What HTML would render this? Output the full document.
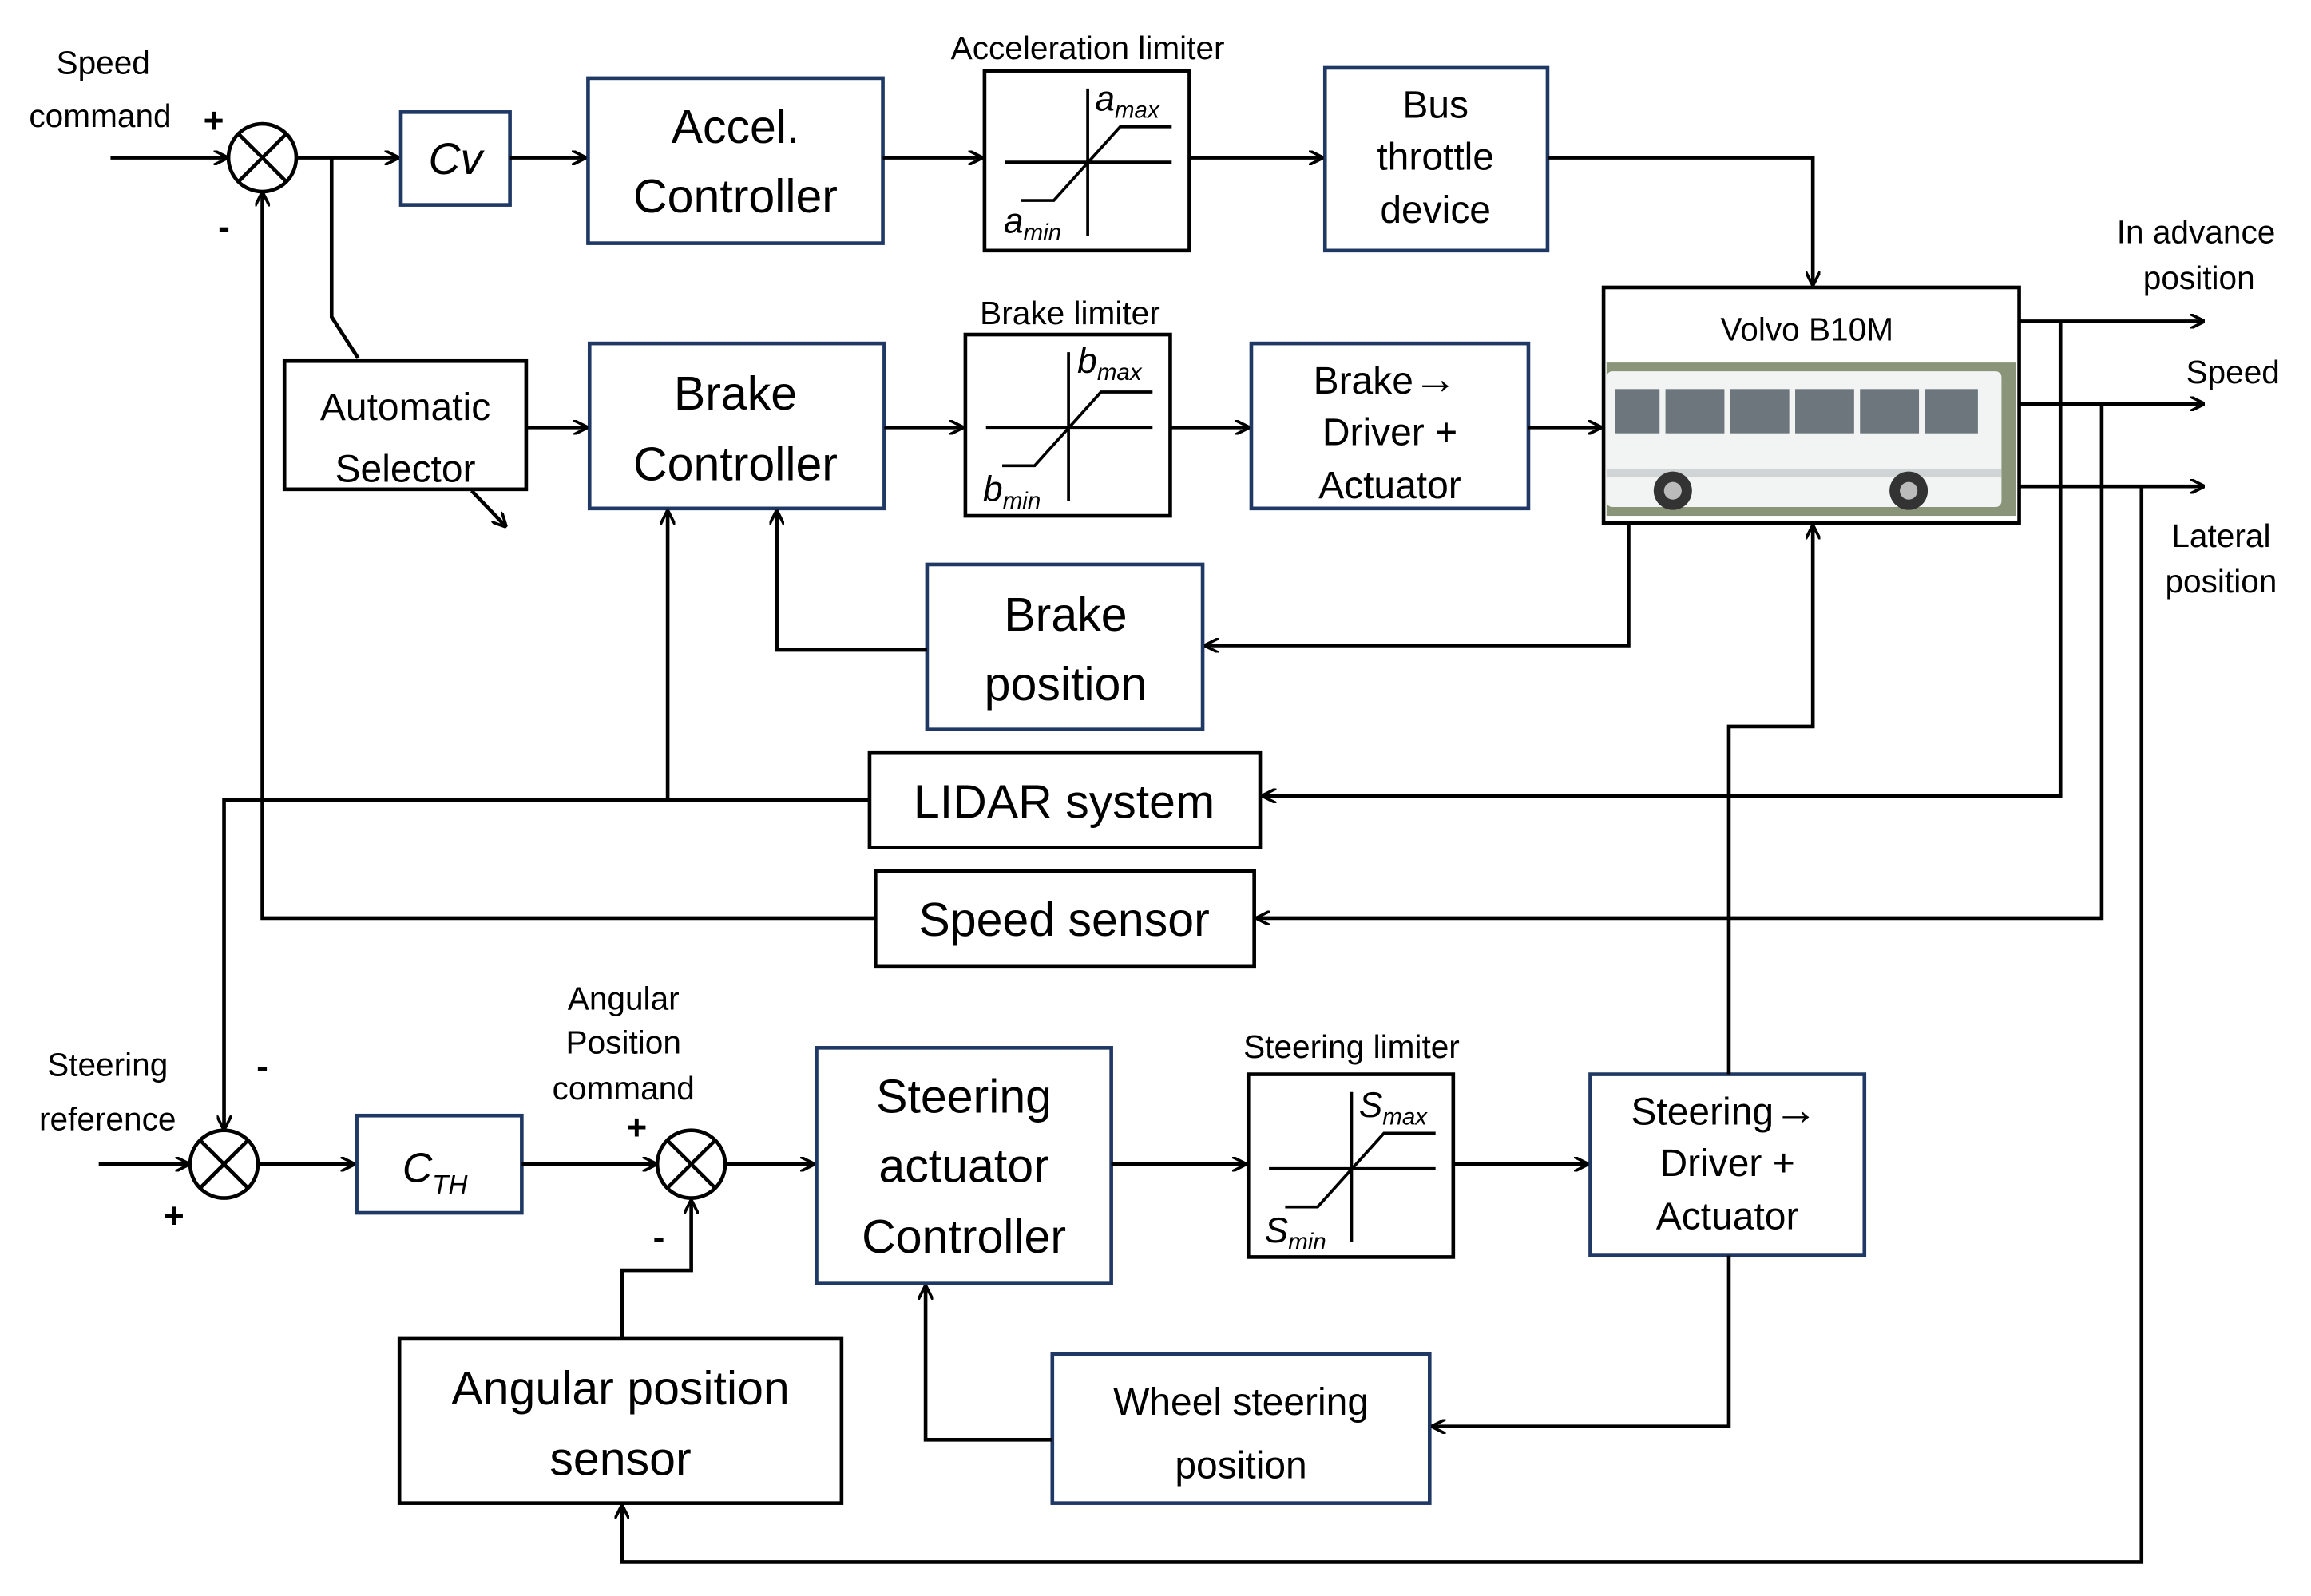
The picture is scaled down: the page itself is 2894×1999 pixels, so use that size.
<!DOCTYPE html>
<html><head><meta charset="utf-8"><style>
html,body{margin:0;padding:0;background:#fff;}
svg{display:block;}
text{font-family:"Liberation Sans",sans-serif;fill:#000;}
</style></head><body>
<svg width="2894" height="1999" viewBox="0 0 1568 1083" xmlns="http://www.w3.org/2000/svg">
<defs>
<marker id="a" markerWidth="10" markerHeight="10" refX="9" refY="5" orient="auto" markerUnits="userSpaceOnUse">
<path d="M0,0 L10,5 L0,10" fill="none" stroke="#000" stroke-width="2"/></marker>
</defs>
<g fill="none" stroke="#000" stroke-width="2.5">
<rect x="272" y="76" width="74" height="63" stroke="#1f3864"/>
<rect x="399" y="53" width="200" height="112" stroke="#1f3864"/>
<rect x="668" y="48" width="139" height="122"/>
<rect x="899" y="46" width="151" height="124" stroke="#1f3864"/>
<rect x="193" y="245" width="164" height="87"/>
<rect x="400" y="233" width="200" height="112" stroke="#1f3864"/>
<rect x="655" y="227" width="139" height="123"/>
<rect x="849" y="233" width="188" height="112" stroke="#1f3864"/>
<rect x="1088" y="195" width="282" height="160"/>
<rect x="629" y="383" width="187" height="112" stroke="#1f3864"/>
<rect x="590" y="511" width="265" height="64"/>
<rect x="594" y="591" width="257" height="65"/>
<rect x="242" y="757" width="112" height="66" stroke="#1f3864"/>
<rect x="554" y="711" width="200" height="160" stroke="#1f3864"/>
<rect x="847" y="729" width="139" height="124"/>
<rect x="1079" y="729" width="186" height="123" stroke="#1f3864"/>
<rect x="714" y="919" width="256" height="101" stroke="#1f3864"/>
<rect x="271" y="908" width="300" height="112"/>
<circle cx="178" cy="107" r="23"/><path d="M162,91 L194,123 M194,91 L162,123"/>
<circle cx="152" cy="790" r="23"/><path d="M136,774 L168,806 M168,774 L136,806"/>
<circle cx="469" cy="790" r="23"/><path d="M453,774 L485,806 M485,774 L453,806"/>
<path d="M682,110 H795 M738,60 V160 M693,136 H715 L760,86 H795" stroke-width="2"/>
<path d="M669,290 H782 M725,239 V340 M680,316 H702 L747,266 H782" stroke-width="2"/>
<path d="M861,793 H974 M917,741 V843 M872,819 H894 L939,769 H974" stroke-width="2"/>
</g>
<g fill="none" stroke="#000" stroke-width="2.5" marker-end="url(#a)">
<path d="M75,107 H154"/>
<path d="M201,107 H270"/>
<path d="M346,107 H397"/>
<path d="M599,107 H666"/>
<path d="M807,107 H897"/>
<path d="M1050,107 H1230 V193"/>
<path d="M357,290 H398"/>
<path d="M320,333 L343,357"/>
<path d="M600,290 H653"/>
<path d="M794,290 H847"/>
<path d="M1037,290 H1086"/>
<path d="M1370,218 H1495"/>
<path d="M1370,274 H1495"/>
<path d="M1370,330 H1495"/>
<path d="M1105,355 V438 H818"/>
<path d="M629,441 H527 V347"/>
<path d="M1398,218 V540 H857"/>
<path d="M590,543 H152 V766"/>
<path d="M453,543 V347"/>
<path d="M1426,274 V623 H853"/>
<path d="M594,623 H178 V131"/>
<path d="M1453,330 V1060 H422 V1022"/>
<path d="M67,790 H128"/>
<path d="M175,790 H240"/>
<path d="M354,790 H445"/>
<path d="M492,790 H552"/>
<path d="M754,790 H845"/>
<path d="M986,790 H1077"/>
<path d="M1173,729 V493 H1230 V357"/>
<path d="M1173,852 V968 H972"/>
<path d="M714,977 H628 V873"/>
<path d="M422,908 V862 H469 V815"/>
</g>
<path d="M225,107 V215 L243,243" fill="none" stroke="#000" stroke-width="2.5"/>
<rect x="1090" y="246" width="278" height="104" fill="#8a9478"/>
<rect x="1090" y="252" width="268" height="92" fill="#f2f4f4" rx="4"/>
<g fill="#6d767c">
<rect x="1096" y="264" width="30" height="30"/><rect x="1130" y="264" width="40" height="30"/>
<rect x="1174" y="264" width="40" height="30"/><rect x="1218" y="264" width="40" height="30"/>
<rect x="1262" y="264" width="40" height="30"/><rect x="1306" y="264" width="36" height="30"/>
</g>
<rect x="1090" y="318" width="268" height="6" fill="#d0d4d4"/>
<circle cx="1135" cy="333" r="13" fill="#333"/><circle cx="1135" cy="333" r="6" fill="#bbb"/>
<circle cx="1295" cy="333" r="13" fill="#333"/><circle cx="1295" cy="333" r="6" fill="#bbb"/>
<g font-size="26" text-anchor="middle">
<text x="309" y="118" font-style="italic" font-size="30">Cv</text>
<text x="499" y="97" font-size="32">Accel.</text>
<text x="499" y="144" font-size="32">Controller</text>
<text x="974" y="80">Bus</text>
<text x="974" y="115">throttle</text>
<text x="974" y="151">device</text>
<text x="275" y="285">Automatic</text>
<text x="275" y="327">Selector</text>
<text x="499" y="278" font-size="32">Brake</text>
<text x="499" y="326" font-size="32">Controller</text>
<text x="940" y="267">Brake<tspan font-weight="bold" font-size="30">→</tspan></text>
<text x="943" y="302">Driver +</text>
<text x="943" y="338">Actuator</text>
<text x="1226" y="231" font-size="22">Volvo B10M</text>
<text x="723" y="428" font-size="32">Brake</text>
<text x="723" y="475" font-size="32">position</text>
<text x="722" y="555" font-size="32">LIDAR system</text>
<text x="722" y="635" font-size="32">Speed sensor</text>
<text x="654" y="755" font-size="32">Steering</text>
<text x="654" y="802" font-size="32">actuator</text>
<text x="654" y="850" font-size="32">Controller</text>
<text x="1170" y="763">Steering<tspan font-weight="bold" font-size="30">→</tspan></text>
<text x="1172" y="798">Driver +</text>
<text x="1172" y="834">Actuator</text>
<text x="842" y="960">Wheel steering</text>
<text x="842" y="1003">position</text>
<text x="421" y="953" font-size="32">Angular position</text>
<text x="421" y="1001" font-size="32">sensor</text>
</g>
<g font-size="22" text-anchor="middle">
<text x="70" y="50">Speed</text>
<text x="68" y="86">command</text>
<text x="738" y="40">Acceleration limiter</text>
<text x="726" y="220">Brake limiter</text>
<text x="917" y="718">Steering limiter</text>
<text x="1490" y="165">In advance</text>
<text x="1492" y="196">position</text>
<text x="1515" y="260">Speed</text>
<text x="1507" y="371">Lateral</text>
<text x="1507" y="402">position</text>
<text x="73" y="730">Steering</text>
<text x="73" y="767">reference</text>
<text x="423" y="685">Angular</text>
<text x="423" y="715">Position</text>
<text x="423" y="746">command</text>
</g>
<g font-size="24" font-weight="bold" text-anchor="middle">
<text x="145" y="90">+</text>
<text x="152" y="162">-</text>
<text x="178" y="732">-</text>
<text x="118" y="833">+</text>
<text x="432" y="773">+</text>
<text x="447" y="848">-</text>
</g>
<g font-size="24" font-style="italic">
<text x="743" y="75">a<tspan font-size="16" dy="5">max</tspan></text>
<text x="681" y="158">a<tspan font-size="16" dy="5">min</tspan></text>
<text x="731" y="253">b<tspan font-size="16" dy="5">max</tspan></text>
<text x="667" y="340">b<tspan font-size="16" dy="5">min</tspan></text>
<text x="922" y="758">S<tspan font-size="16" dy="5">max</tspan></text>
<text x="858" y="843">S<tspan font-size="16" dy="5">min</tspan></text>
<text x="273" y="802" font-size="28">C<tspan font-size="18" dy="8">TH</tspan></text>
</g>
</svg>
</body></html>
